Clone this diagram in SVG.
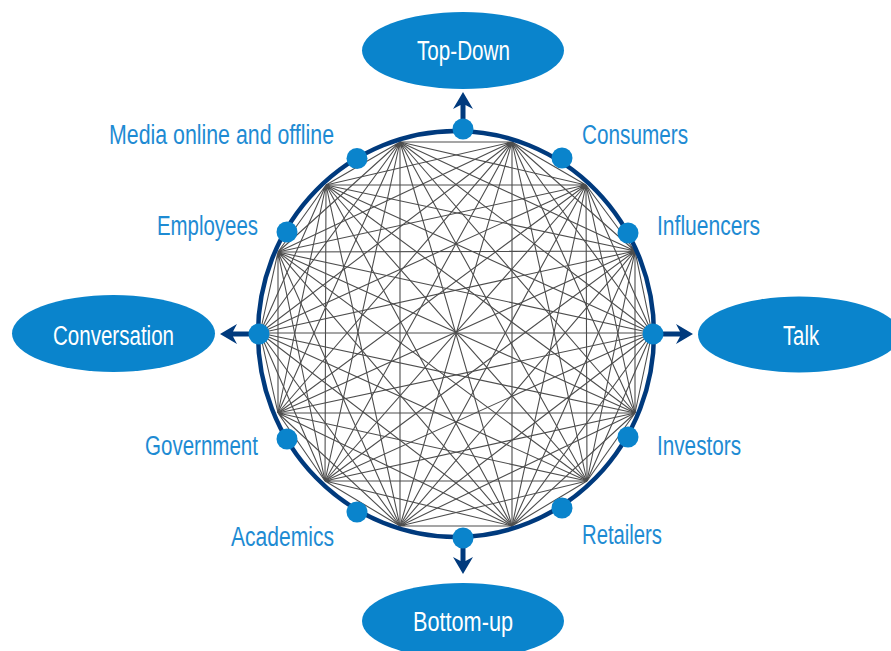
<svg xmlns="http://www.w3.org/2000/svg" width="891" height="651" viewBox="0 0 891 651">
<style>
.bg{fill:#ffffff}
.mesh{fill:none;stroke:#4d4d4d;stroke-width:1.1}
.ring{fill:none;stroke:#003a7d;stroke-width:4.5}
.dot{fill:#0a84cc}
.arrow{fill:#003a7d}
.oval{fill:#0a84cc}
.lbl{font-family:"Liberation Sans",Arial,sans-serif;font-size:27px;fill:#1e8bd3}
.otxt{font-family:"Liberation Sans",Arial,sans-serif;font-size:27px;fill:#ffffff;text-anchor:middle}
</style>
<rect class="bg" x="0" y="0" width="891" height="651"/>
<g id="mesh" class="mesh">
<path d="M652 333L635 251M652 333L586 185M652 333L512 142M652 333L400 142M652 333L326 185M652 333L278 252M652 333L260 333M652 333L278 413M652 333L325 481M652 333L400 526M652 333L512 526M652 333L587 481M652 333L635 413"/>
<path d="M635 251L586 185M635 251L512 142M635 251L400 142M635 251L326 185M635 251L278 252M635 251L260 333M635 251L278 413M635 251L325 481M635 251L400 526M635 251L512 526M635 251L587 481M635 251L635 413"/>
<path d="M586 185L512 142M586 185L400 142M586 185L326 185M586 185L278 252M586 185L260 333M586 185L278 413M586 185L325 481M586 185L400 526M586 185L512 526M586 185L587 481M586 185L635 413"/>
<path d="M512 142L400 142M512 142L326 185M512 142L278 252M512 142L260 333M512 142L278 413M512 142L325 481M512 142L400 526M512 142L512 526M512 142L587 481M512 142L635 413"/>
<path d="M400 142L326 185M400 142L278 252M400 142L260 333M400 142L278 413M400 142L325 481M400 142L400 526M400 142L512 526M400 142L587 481M400 142L635 413"/>
<path d="M326 185L278 252M326 185L260 333M326 185L278 413M326 185L325 481M326 185L400 526M326 185L512 526M326 185L587 481M326 185L635 413"/>
<path d="M278 252L260 333M278 252L278 413M278 252L325 481M278 252L400 526M278 252L512 526M278 252L587 481M278 252L635 413"/>
<path d="M260 333L278 413M260 333L325 481M260 333L400 526M260 333L512 526M260 333L587 481M260 333L635 413"/>
<path d="M278 413L325 481M278 413L400 526M278 413L512 526M278 413L587 481M278 413L635 413"/>
<path d="M325 481L400 526M325 481L512 526M325 481L587 481M325 481L635 413"/>
<path d="M400 526L512 526M400 526L587 481M400 526L635 413"/>
<path d="M512 526L587 481M512 526L635 413"/>
<path d="M587 481L635 413"/>
</g>
<g id="ring">
<ellipse class="ring" cx="456" cy="334" rx="198" ry="203"/>
</g>
<g id="connectors">
<path class="arrow" d="M460.5 122V105L453 109L463 92L473 109L465.5 105V122Z"/>
<path class="arrow" d="M460.5 545V561L453 557L463 574L473 557L465.5 561V545Z"/>
<path class="arrow" d="M252 331.5H233L237 324L220 334L237 344L233 336.5H252Z"/>
<path class="arrow" d="M660 331.5H680L676 324L693 334L676 344L680 336.5H660Z"/>
</g>
<g id="top-down">
<ellipse class="oval" cx="463" cy="50.5" rx="101" ry="38.5"/>
<text class="otxt" x="463.5" y="60" textLength="93" lengthAdjust="spacingAndGlyphs">Top-Down</text>
</g>
<g id="conversation">
<ellipse class="oval" cx="113.5" cy="333.5" rx="101.5" ry="38.5"/>
<text class="otxt" x="113.5" y="345" textLength="121" lengthAdjust="spacingAndGlyphs">Conversation</text>
</g>
<g id="talk">
<ellipse class="oval" cx="799" cy="334.5" rx="101" ry="38"/>
<text class="otxt" x="801" y="345" textLength="36" lengthAdjust="spacingAndGlyphs">Talk</text>
</g>
<g id="bottom-up">
<ellipse class="oval" cx="463" cy="621" rx="101" ry="38"/>
<text class="otxt" x="463" y="631" textLength="100" lengthAdjust="spacingAndGlyphs">Bottom-up</text>
</g>
<g id="node-top"><circle class="dot" cx="463" cy="129" r="10.5"/></g>
<g id="node-bottom"><circle class="dot" cx="463" cy="538" r="10.5"/></g>
<g id="node-left"><circle class="dot" cx="259" cy="334" r="10.5"/></g>
<g id="node-right"><circle class="dot" cx="653" cy="334" r="10.5"/></g>
<g id="media">
<circle class="dot" cx="357" cy="158.5" r="10.5"/>
<text class="lbl" x="334" y="144" text-anchor="end" textLength="225" lengthAdjust="spacingAndGlyphs">Media online and offline</text>
</g>
<g id="consumers">
<circle class="dot" cx="562" cy="158" r="10.5"/>
<text class="lbl" x="582" y="144" textLength="106" lengthAdjust="spacingAndGlyphs">Consumers</text>
</g>
<g id="employees">
<circle class="dot" cx="287" cy="232" r="10.5"/>
<text class="lbl" x="258" y="235" text-anchor="end" textLength="101" lengthAdjust="spacingAndGlyphs">Employees</text>
</g>
<g id="influencers">
<circle class="dot" cx="628" cy="233" r="10.5"/>
<text class="lbl" x="657" y="235" textLength="103" lengthAdjust="spacingAndGlyphs">Influencers</text>
</g>
<g id="government">
<circle class="dot" cx="287" cy="439" r="10.5"/>
<text class="lbl" x="258" y="455" text-anchor="end" textLength="113" lengthAdjust="spacingAndGlyphs">Government</text>
</g>
<g id="investors">
<circle class="dot" cx="628" cy="437" r="10.5"/>
<text class="lbl" x="657" y="455" textLength="84" lengthAdjust="spacingAndGlyphs">Investors</text>
</g>
<g id="academics">
<circle class="dot" cx="357" cy="512" r="10.5"/>
<text class="lbl" x="334" y="546" text-anchor="end" textLength="103" lengthAdjust="spacingAndGlyphs">Academics</text>
</g>
<g id="retailers">
<circle class="dot" cx="562" cy="508" r="10.5"/>
<text class="lbl" x="582" y="544" textLength="80" lengthAdjust="spacingAndGlyphs">Retailers</text>
</g>
</svg>
